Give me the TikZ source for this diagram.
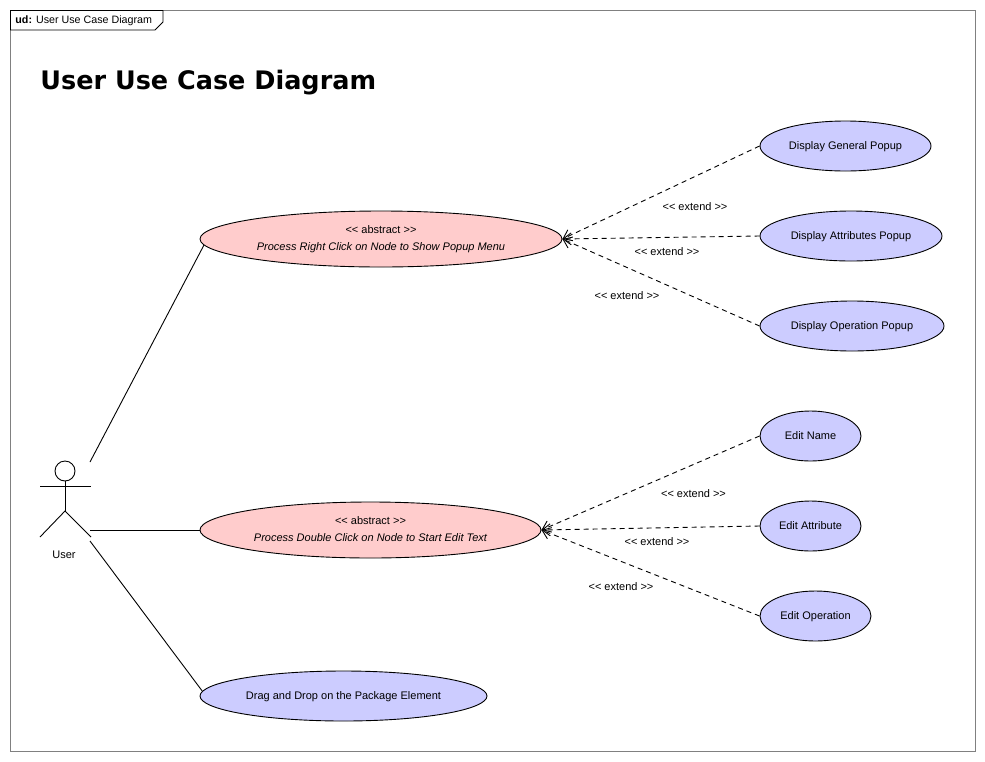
\documentclass[tikz,border=0pt]{standalone}
\usepackage{fontspec}
\setmainfont{Liberation Sans}
\newfontfamily\titlefont{DejaVu Sans}
\usetikzlibrary{shapes.geometric,arrows.meta}
\tikzset{
    usecase/.style={draw, ellipse, inner sep=0pt, font=\fontsize{11}{17}\selectfont, align=center},
    pinkcase/.style={usecase, fill=pink1},
    bluecase/.style={usecase, fill=blue1, text height=6.5pt, text depth=0pt},
    extendline/.style={dashed, dash pattern=on 5pt off 4pt, -{Straight Barb[length=8pt,width=12pt]}},
    extendlabel/.style={font=\fontsize{11}{12}\selectfont, inner sep=0pt},
}
\definecolor{pink1}{HTML}{FFCCCC}
\definecolor{blue1}{HTML}{CCCCFF}
\begin{document}
\begin{tikzpicture}[x=1pt, y=-1pt, line width=0.9pt]
    \useasboundingbox (0,0) rectangle (985,761);
    \draw[gray] (10.5,10.5) rectangle (975.5,751.5);
    \draw[fill=white] (10.5,10.5) -- (163,10.5) -- (163,22) -- (155,30) -- (10.5,30) -- cycle; %tab
    \node[anchor=west, inner sep=0pt, font=\fontsize{10.7}{12}\selectfont] (tabtext) at (15,20.5) {\textbf{ud:} User Use Case Diagram};
    \node[anchor=west, inner sep=0pt, font=\fontsize{25.5}{30}\titlefont\bfseries] (title) at (40,83) {User Use Case Diagram};

    % actor
    \node[draw, circle, minimum size=20pt, inner sep=0pt] (head) at (65,471) {};
    \coordinate (hip) at (65,511);
    \coordinate (armL) at (40,486);
    \coordinate (armR) at (91,486);
    \coordinate (footL) at (40,537);
    \coordinate (footR) at (91,537);
    \draw (head) -- (hip);
    \draw (armL) -- (armR);
    \draw (footL) -- (hip) -- (footR);
    \node[font=\fontsize{11}{12}\selectfont, inner sep=0pt] (user) at (64,554.5) {User};

    % use cases
    \node[pinkcase, minimum width=362pt, minimum height=56pt] (rightclick) at (381,239) {<{}< abstract >{}>\\ \textit{Process Right Click on Node to Show Popup Menu}};
    \node[pinkcase, minimum width=341pt, minimum height=56pt] (doubleclick) at (370.5,530) {<{}< abstract >{}>\\ \textit{Process Double Click on Node to Start Edit Text\vphantom{p}}};
    \node[bluecase, minimum width=287pt, minimum height=50pt] (drag) at (343.5,696) {Drag and Drop on the Package Element};
    \node[bluecase, minimum width=171pt, minimum height=50pt] (general) at (845.5,146) {Display General Popup};
    \node[bluecase, minimum width=182pt, minimum height=50pt] (attributes) at (851,236) {Display Attributes Popup};
    \node[bluecase, minimum width=184pt, minimum height=50pt] (operation) at (852,326) {Display Operation Popup};
    \node[bluecase, minimum width=101pt, minimum height=50pt] (editname) at (810.5,436) {Edit Name};
    \node[bluecase, minimum width=101pt, minimum height=50pt] (editattr) at (810.5,526) {Edit Attribute};
    \node[bluecase, minimum width=111pt, minimum height=50pt] (editop) at (815.5,616) {Edit Operation};

    % actor links
    \coordinate (linkA) at (90,462);
    \coordinate (linkB) at (90,530);
    \coordinate (linkC) at (90,541);
    \draw (linkA) -- (rightclick.182.6);
    \draw (linkB) -- (doubleclick.west);
    \draw (linkC) -- (drag.178);

    % extends
    \draw[extendline] (general.west) -- (rightclick.east);
    \draw[extendline] (attributes.west) -- (rightclick.east);
    \draw[extendline] (operation.west) -- (rightclick.east);
    \draw[extendline] (editname.west) -- (doubleclick.east);
    \draw[extendline] (editattr.west) -- (doubleclick.east);
    \draw[extendline] (editop.west) -- (doubleclick.east);

    \node[extendlabel] (extA) at (695,207) {<{}< extend >{}>};
    \node[extendlabel] (extB) at (667,252) {<{}< extend >{}>};
    \node[extendlabel] (extC) at (627,296) {<{}< extend >{}>};
    \node[extendlabel] (extD) at (693.5,494) {<{}< extend >{}>};
    \node[extendlabel] (extE) at (657,542) {<{}< extend >{}>};
    \node[extendlabel] (extF) at (621,587) {<{}< extend >{}>};
\end{tikzpicture}
\end{document}
